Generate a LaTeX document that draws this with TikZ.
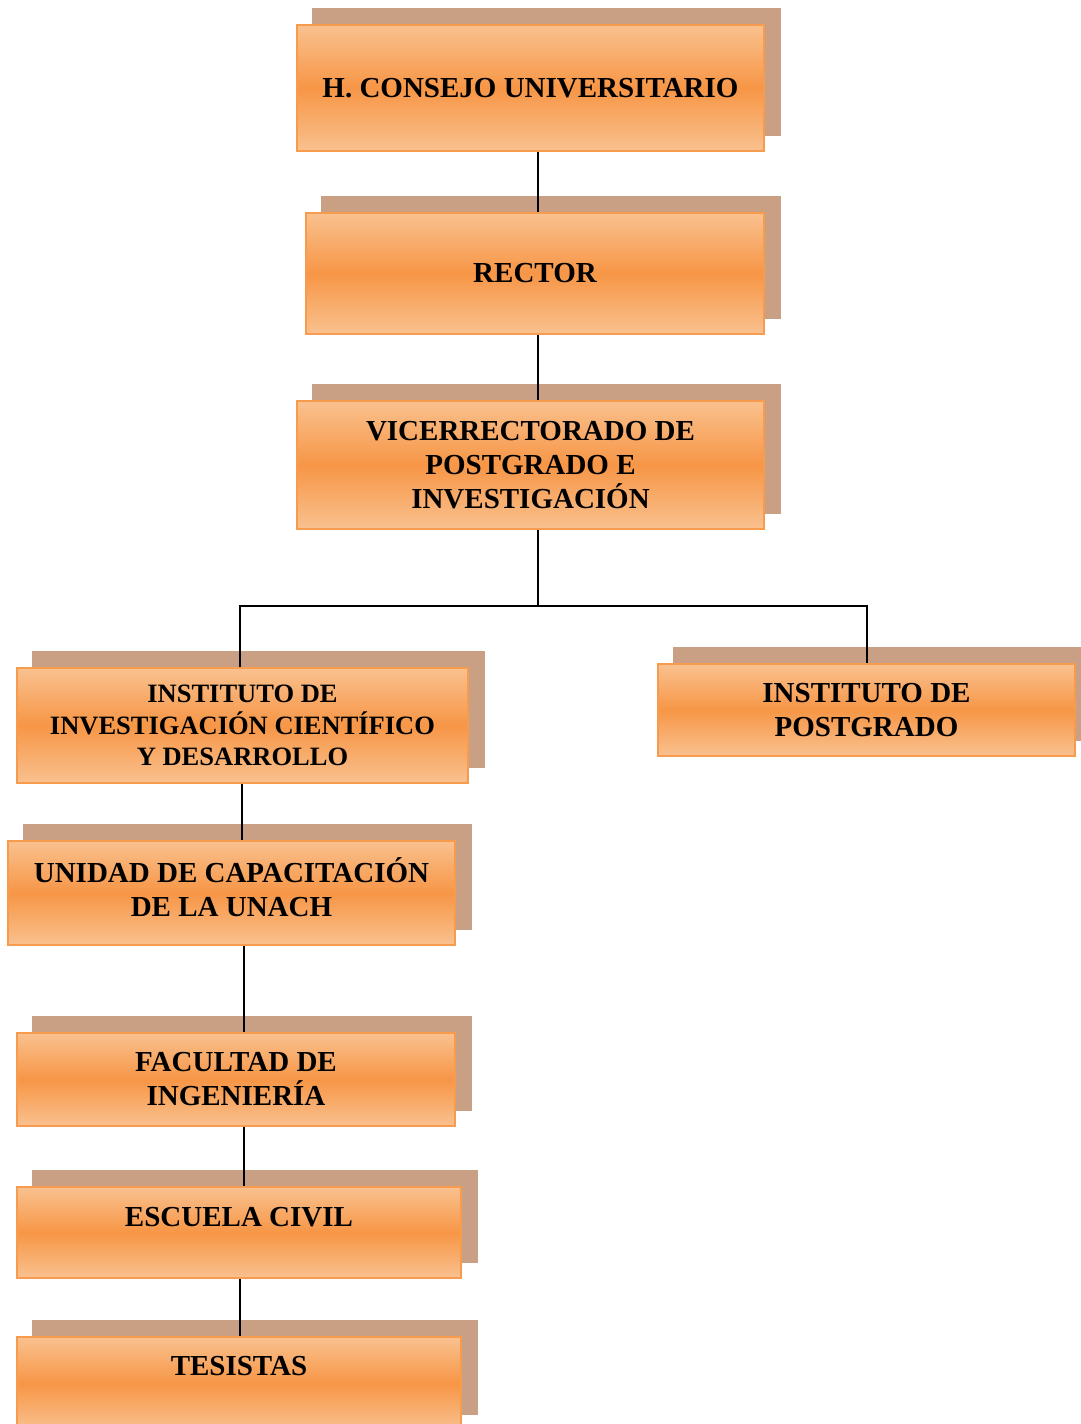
\documentclass[tikz,border=0pt]{standalone}
\usepackage{fontspec}
\setmainfont{Liberation Serif}
\usepackage{tikz}
\usetikzlibrary{positioning,calc,backgrounds}
\definecolor{peach}    {HTML}{F9C18F}
\definecolor{orange}   {HTML}{F79646}
\definecolor{tan}      {HTML}{C9A083}
\definecolor{ink}      {HTML}{000000}
\colorlet{rimcol}{orange!95!white}
\tikzset{
  % --- nodes
  box/.style    = {rectangle, draw=rimcol, line width=2pt, align=center,
                   top color=peach, bottom color=peach, middle color=orange,
                   inner sep=4pt, text=ink,
                   font=\fontsize{29}{34}\selectfont\bfseries},
  smallbox/.style = {box, font=\fontsize{26.5}{31.5}\selectfont\bfseries},
  % --- edges
  conn/.style   = {draw=ink, line width=1.6pt},
  shadowfill/.style = {fill=tan},
}

\begin{document}
\begin{tikzpicture}[x=1pt,y=-1pt]
  \useasboundingbox (0,0) rectangle (1081,1424);

  % top of the chart
  \node[box, minimum width=467pt, minimum height=126pt] (consejo) at (530.5,88)
    {H. CONSEJO UNIVERSITARIO};
  \node[box, minimum width=458pt, minimum height=121pt] (rector) at (535,273.5)
    {RECTOR};
  \node[box, minimum width=467pt, minimum height=128pt] (vice) at (530.5,465)
    {VICERRECTORADO DE\\POSTGRADO E\\INVESTIGACIÓN};

  % the two institutes
  \node[smallbox, minimum width=451pt, minimum height=115pt] (invest) at (242.5,725.5)
    {INSTITUTO DE\\INVESTIGACIÓN CIENTÍFICO\\Y DESARROLLO};
  \node[box, minimum width=417pt, minimum height=92pt] (postg) at (866.5,710)
    {INSTITUTO DE\\POSTGRADO};

  % left column
  \node[box, minimum width=447pt, minimum height=104pt, text depth=12pt] (unidad) at (231.5,893)
    {UNIDAD DE CAPACITACIÓN\\DE LA UNACH};
  \node[box, minimum width=438pt, minimum height=93pt] (facultad) at (236,1079.5)
    {FACULTAD DE\\INGENIERÍA};
  \node[box, minimum width=444pt, minimum height=91pt, text depth=31pt] (escuela) at (239,1232.5)
    {ESCUELA CIVIL};
  \node[box, minimum width=444pt, minimum height=93pt, text depth=35pt] (tesistas) at (239,1383.5)
    {TESISTAS};

  % shadows behind every box
  \begin{scope}[on background layer]
    \foreach \n in {consejo,rector,vice,invest,postg,unidad,facultad,escuela,tesistas}
      \fill[shadowfill] ([shift={(16pt,16pt)}]\n.south west) rectangle ([shift={(16pt,16pt)}]\n.north east);
  \end{scope}

  % connectors
  \coordinate (axis) at (538,0);
  \coordinate (split) at (538,606);
  \coordinate (leftbr) at (240,606);
  \coordinate (rightbr) at (867,606);
  \draw[conn] (consejo.south -| axis) -- (rector.north -| axis);
  \draw[conn] (rector.south -| axis) -- (vice.north -| axis);
  \draw[conn] (vice.south -| axis) -- (split);
  \draw[conn] (invest.north -| leftbr) -- (leftbr) -- (rightbr) -- (postg.north -| rightbr);
  \draw[conn] ([xshift=-0.5pt]invest.south) -- ([xshift=10.5pt]unidad.north);
  \draw[conn] ([xshift=12.5pt]unidad.south) -- ([xshift=8pt]facultad.north);
  \draw[conn] ([xshift=8pt]facultad.south) -- ([xshift=5pt]escuela.north);
  \draw[conn] ([xshift=1pt]escuela.south) -- ([xshift=1pt]tesistas.north);

\end{tikzpicture}
\end{document}
